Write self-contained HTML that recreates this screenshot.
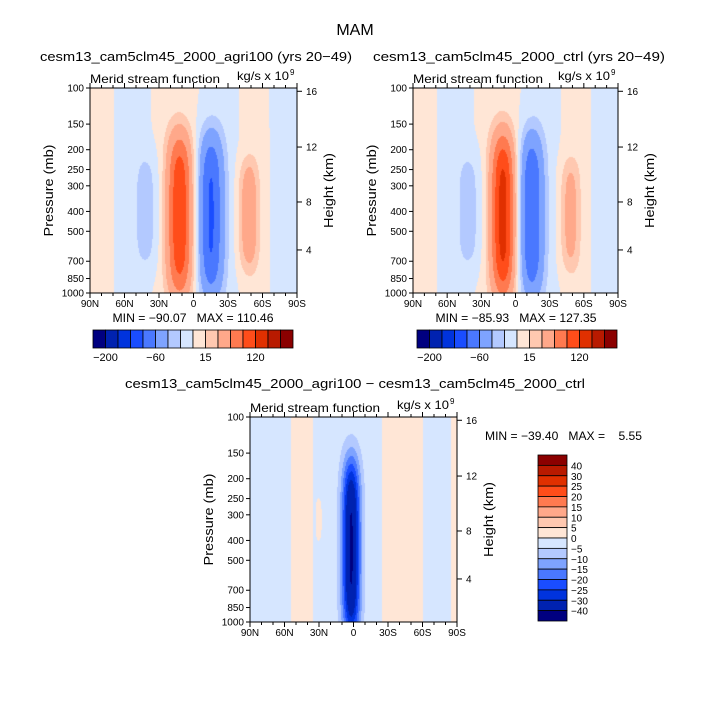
<!DOCTYPE html>
<html><head><meta charset="utf-8"><style>
html,body{margin:0;padding:0;background:#fff;}
#wrap{position:relative;width:710px;height:709px;overflow:hidden;font-family:"Liberation Sans",sans-serif;}
canvas{position:absolute;}
svg{position:absolute;left:0;top:0;}
text{white-space:pre;}
</style></head><body>
<div id="wrap">
<canvas id="c1"></canvas>
<canvas id="c2"></canvas>
<canvas id="c3"></canvas>
<svg id="ov" width="710" height="709"></svg>
</div>
<script>
// ---- data ----
const colors=['#000080','#0022b0','#0033dd','#1a4dff','#4a78ff','#7ea3ff','#b3c9ff','#d6e6ff','#ffe6d6','#ffc8b0','#ffa88a','#ff7a50','#ff4d1a','#e03000','#b81a00','#8b0000'];
const levelsTop=[-200,-150,-120,-90,-60,-30,-15,0,15,30,60,90,120,150,200];
const levelsDiff=[-40,-30,-25,-20,-15,-10,-5,0,5,10,15,20,25,30,40];
const topBarLabels=['-200','-60','15','120'];
const topBarLabelIdx=[1,5,9,13];
const diffBarLabels=['40','30','25','20','15','10','5','0','\u22125','\u221210','\u221215','\u221220','\u221225','\u221230','\u221240'];
const pressureTicks=[100,150,200,250,300,400,500,700,850,1000];
const heightTicks=['16','12','8','4'];
const latTicks=['90N','60N','30N','0','30S','60S','90S'];
// field cells: lat (deg, +south), amplitude, vertical centre (fraction), lat width, vertical width
const agriLat=[-12,15,48,-40,-90,-52,-15,22,53,85];
const agriAmp=[110,-90,45,-20,5,-5,5,-5,5,-6];
const agriCf=[0.62,0.62,0.62,0.6,0.5,0.5,0.5,0.5,0.5,0.5];
const agriSx=[7.8,7.8,6,8,12,10,14,12,9,12];
const agriSf=[0.34,0.34,0.23,0.25,5,5,5,5,5,5];
const ctrlLat=[-11,14,48,-40,-90,-52,-15,22,53,85];
const ctrlAmp=[127,-86,36,-20,5,-5,5,-5,5,-6];
const ctrlCf=[0.62,0.62,0.62,0.6,0.5,0.5,0.5,0.5,0.5,0.5];
const ctrlSx=[7.5,7.5,6,8,12,10,14,12,9,12];
const ctrlSf=[0.34,0.34,0.23,0.25,5,5,5,5,5,5];
const diffLat=[-2,-45,43,88,-30,0];
const diffAmp=[-39,4,4.5,3,5,-2];
const diffCf=[0.64,0.5,0.5,0.5,0.5,0.5];
const diffSx=[5.5,8,14,3,1.5,1000];
const diffSf=[0.37,5,5,5,0.08,50];
const statsAgri='MIN = \u221290.07   MAX = 110.46';
const statsCtrl='MIN = \u221285.93   MAX = 127.35';
const statsDiff='MIN = \u221239.40   MAX =    5.55';

function field(lat,f,L,A,C,SX,SF){
  let v=0;
  for(let i=0;i<L.length;i++){
    const dx=(lat-L[i])/SX[i], df=(f-C[i])/SF[i];
    v+=A[i]*Math.exp(-dx*dx/2)*Math.exp(-Math.pow(df,4)/2);
  }
  return v;
}
function hex(c){return [parseInt(c.substr(1,2),16),parseInt(c.substr(3,2),16),parseInt(c.substr(5,2),16)];}
const rgb=colors.map(hex);
function paint(id,x0,y0,w,h,levels,L,A,C,SX,SF){
  const cv=document.getElementById(id);cv.width=w;cv.height=h;
  cv.style.left=x0+'px';cv.style.top=y0+'px';
  const ctx=cv.getContext('2d');const im=ctx.createImageData(w,h);
  for(let py=0;py<h;py++)for(let px=0;px<w;px++){
    const lat=-90+180*(px+0.5)/w,f=(py+0.5)/h;
    const v=field(lat,f,L,A,C,SX,SF);
    let k=0;while(k<levels.length&&v>=levels[k])k++;
    const c=rgb[k],o=(py*w+px)*4;
    im.data[o]=c[0];im.data[o+1]=c[1];im.data[o+2]=c[2];im.data[o+3]=255;
  }
  ctx.putImageData(im,0,0);
}
const NS='http://www.w3.org/2000/svg';
const ov=document.getElementById('ov');
function mk(tag,attrs,txt){const e=document.createElementNS(NS,tag);for(const k in attrs)e.setAttribute(k,attrs[k]);if(txt!==undefined)e.textContent=txt;ov.appendChild(e);return e;}
function txt(x,y,s,size,anchor,name,len){
  const a={x:x,y:y,'font-size':size,'text-anchor':anchor||'start',fill:'#000','font-family':'Liberation Sans, sans-serif'};
  if(len){a.textLength=len;a.lengthAdjust='spacingAndGlyphs';}
  const e=mk('text',a,s);
  
  
  return e;
}
const hFrac=[0.016,0.288,0.556,0.79];
function axes(x0,y0,w,h,pfx){
  const fr=mk('rect',{x:x0,y:y0,width:w,height:h,fill:'none',stroke:'#000','stroke-width':1});
  
  
  pressureTicks.forEach(p=>{
    const y=y0+(Math.log10(p)-2)*h;
    const t=mk('line',{x1:x0-4,x2:x0,y1:y,y2:y,stroke:'#000'});
    
    
    txt(x0-6,y+3.5,String(p),10,'end',pfx+'-pressure-tick-label');
  });
  heightTicks.forEach((s,i)=>{
    const y=y0+hFrac[i]*h;
    const t=mk('line',{x1:x0+w,x2:x0+w+5,y1:y,y2:y,stroke:'#000'});
    
    
    txt(x0+w+9,y+3.5,s,10,'start',pfx+'-height-tick-label');
  });
  for(let d=0;d<=18;d++){
    const x=x0+w*d/18,maj=d%3===0;
    const t=mk('line',{x1:x,x2:x,y1:y0+h,y2:y0+h+(maj?5:3),stroke:'#000'});
    
    
    const t2=mk('line',{x1:x,x2:x,y1:y0,y2:y0-(maj?5:3),stroke:'#000'});
    
    
  }
  latTicks.forEach((s,i)=>txt(x0+w*i/6,y0+h+14,s,10,'middle',pfx+'-lat-tick-label'));
  txt(x0,y0-5,'Merid stream function',12,'start',pfx+'-subtitle',130);
  txt(x0+w-8,y0-8,'kg/s x 10',12,'end',pfx+'-units',52);
  txt(x0+w-7,y0-13,'9',8,'start',pfx+'-units-exponent');
  const pl=txt(0,0,'Pressure (mb)',13,'middle',pfx+'-y-axis-title',92);
  pl.setAttribute('transform','translate('+(x0-37)+','+(y0+h/2)+') rotate(-90)');
  const hl=txt(0,0,'Height (km)',13,'middle',pfx+'-right-axis-title',75);
  hl.setAttribute('transform','translate('+(x0+w+36)+','+(y0+h/2)+') rotate(-90)');
}
function hbar(x0,y0,w,h,pfx){
  const bw=w/16;
  colors.forEach((c,i)=>{
    const r=mk('rect',{x:x0+i*bw,y:y0,width:bw,height:h,fill:c,stroke:'#000','stroke-width':0.8});
    
    
  });
  topBarLabels.forEach((s,i)=>txt(x0+topBarLabelIdx[i]*bw,y0+h+13,s.replace('-','\u2212'),11,'middle',pfx+'-colorbar-label'));
}
// panels
const P1={x:90,y:88,w:207,h:205},P2={x:413,y:88,w:205,h:205},P3={x:250,y:417,w:207,h:205};
paint('c1',P1.x,P1.y,P1.w,P1.h,levelsTop,agriLat,agriAmp,agriCf,agriSx,agriSf);
paint('c2',P2.x,P2.y,P2.w,P2.h,levelsTop,ctrlLat,ctrlAmp,ctrlCf,ctrlSx,ctrlSf);
paint('c3',P3.x,P3.y,P3.w,P3.h,levelsDiff,diffLat,diffAmp,diffCf,diffSx,diffSf);
axes(P1.x,P1.y,P1.w,P1.h,'agri100');
axes(P2.x,P2.y,P2.w,P2.h,'ctrl');
axes(P3.x,P3.y,P3.w,P3.h,'difference');
txt(355,35,'MAM',16,'middle','figure-title');
txt(196,61,'cesm13_cam5clm45_2000_agri100 (yrs 20\u221249)',13,'middle','agri100-title',312);
txt(519,61,'cesm13_cam5clm45_2000_ctrl (yrs 20\u221249)',13,'middle','ctrl-title',292);
txt(355,388,'cesm13_cam5clm45_2000_agri100 \u2212 cesm13_cam5clm45_2000_ctrl',13,'middle','difference-title',460);
txt(193,322,statsAgri,12,'middle','agri100-min-max',161);
txt(516,322,statsCtrl,12,'middle','ctrl-min-max',161);
txt(485,440,statsDiff,12,'start','difference-min-max',157);
hbar(93,330,200,18,'agri100');
hbar(417,330,200,18,'ctrl');
// vertical colorbar for difference
(function(){
  const x0=538,y0=455,w=29,h=166,bh=h/16;
  for(let i=0;i<16;i++){
    const r=mk('rect',{x:x0,y:y0+i*bh,width:w,height:bh,fill:colors[15-i],stroke:'#000','stroke-width':0.8});
    
    
  }
  diffBarLabels.forEach((s,i)=>txt(x0+w+4,y0+(i+1)*bh+4,s,10,'start','difference-colorbar-label'));
})();
</script>
</body></html>
